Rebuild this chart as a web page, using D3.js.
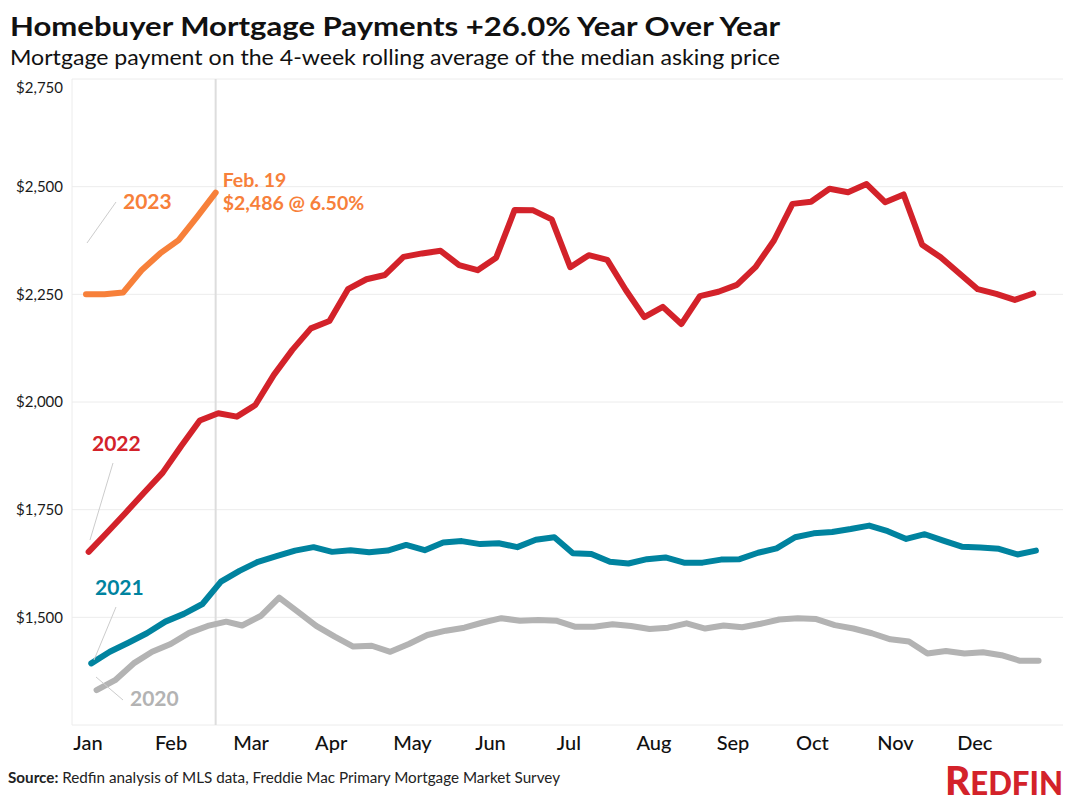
<!DOCTYPE html>
<html>
<head>
<meta charset="utf-8">
<script src="https://cdn.jsdelivr.net/npm/d3@7"></script>
<style>
  html, body { margin: 0; padding: 0; background: #fff; }
  svg { display: block; }
  text { font-family: Lato, "Noto Sans", sans-serif; }
</style>
</head>
<body>
<svg id="chart" width="1073" height="805"></svg>
<script>
// ---------------- DATA ----------------
const monthLabels = ["Jan","Feb","Mar","Apr","May","Jun","Jul","Aug","Sep","Oct","Nov","Dec"];
const yTicks = [1500, 1750, 2000, 2250, 2500, 2750];
const yTickLabels = ["$1,500","$1,750","$2,000","$2,250","$2,500","$2,750"];

// weekly series; first week-ending date of each year
const start2020 = "2020-01-05";
const start2021 = "2021-01-03";
const start2022 = "2022-01-02";
const start2023 = "2023-01-01";

const values2020 = [1331,1354,1393,1420,1438,1464,1480,1490,1481,1503,1546,1513,1480,1455,1432,1434,1420,1438,1459,1469,1476,1488,1498,1492,1494,1492,1478,1478,1484,1480,1473,1476,1486,1474,1481,1477,1485,1495,1498,1496,1482,1474,1463,1449,1444,1416,1422,1416,1419,1412,1399,1399];
const values2021 = [1393,1420,1441,1463,1490,1508,1531,1583,1608,1629,1642,1655,1663,1652,1656,1651,1655,1668,1656,1674,1677,1670,1672,1663,1680,1686,1649,1647,1629,1625,1635,1639,1627,1627,1634,1635,1650,1660,1686,1695,1698,1705,1713,1700,1682,1693,1678,1664,1662,1659,1646,1655];
const values2022 = [1652,1697,1743,1790,1836,1898,1957,1974,1966,1993,2063,2121,2171,2188,2262,2285,2295,2337,2345,2351,2318,2306,2335,2446,2445,2424,2313,2341,2330,2260,2197,2221,2181,2246,2256,2272,2313,2375,2460,2465,2495,2487,2506,2464,2482,2365,2336,2299,2262,2251,2237,2252];
const values2023 = [2250,2250,2254,2306,2345,2376,2430,2486];

const seriesNames = ["2020","2021","2022","2023"];
const seriesColors = ["#b3b3b3","#00839f","#d3222a","#f7803a"];

const title = "Homebuyer Mortgage Payments +26.0% Year Over Year";
const subtitle = "Mortgage payment on the 4-week rolling average of the median asking price";
const calloutLines = ["Feb. 19", "$2,486 @ 6.50%"];

// ---------------- BUILD ----------------
const parse = d3.timeParse("%Y-%m-%d");
function toRef(d) { return new Date(2022, d.getMonth(), d.getDate()); }
function buildSeries(startStr, vals) {
  const s = parse(startStr);
  return vals.map((v, i) => ({ date: toRef(d3.timeDay.offset(s, 7 * i)), value: v }));
}
const series = [
  buildSeries(start2020, values2020),
  buildSeries(start2021, values2021),
  buildSeries(start2022, values2022),
  buildSeries(start2023, values2023)
];

const svg = d3.select("#chart");
svg.append("rect").attr("width", 1073).attr("height", 805).attr("fill", "#fff");

const plotLeft = 72, plotRight = 1063, plotTop = 79, plotBottom = 725;

const x = d3.scaleTime()
  .domain([new Date(2022, 0, 1), new Date(2022, 11, 31)])
  .range([86, 86 + 364 * 2.646]);
const y = d3.scaleLinear().domain([1250, 2750]).range([plotBottom, plotTop]);

// gridlines
svg.append("g").selectAll("line").data(yTicks).join("line")
  .attr("x1", plotLeft).attr("x2", plotRight)
  .attr("y1", d => y(d)).attr("y2", d => y(d))
  .attr("stroke", "#ececec").attr("stroke-width", 1);
// plot frame left & bottom
svg.append("line").attr("x1", plotLeft).attr("x2", plotLeft).attr("y1", plotTop).attr("y2", plotBottom)
  .attr("stroke", "#ececec");
svg.append("line").attr("x1", plotLeft).attr("x2", plotRight).attr("y1", plotBottom).attr("y2", plotBottom)
  .attr("stroke", "#ececec");

// y axis labels
svg.append("g").selectAll("text").data(yTicks).join("text")
  .attr("x", 63)
  .attr("y", d => d === 2750 ? y(d) + 9 : y(d))
  .attr("dy", "0.35em")
  .attr("text-anchor", "end")
  .attr("font-size", 15)
  .attr("fill", "#1a1a1a")
  .text((d, i) => yTickLabels[i]);

// x axis labels (month starts)
const monthOffsets = [2, 3, 9, 7, 9, 5, 4, 7, 4, 4, 5, 5];
const months = d3.range(12).map(m => new Date(2022, m, 1));
svg.append("g").selectAll("text").data(months).join("text")
  .attr("x", (d, i) => x(d) + monthOffsets[i])
  .attr("y", 743)
  .attr("dy", "0.35em")
  .attr("text-anchor", "middle")
  .attr("font-size", 20)
  .attr("font-weight", 500)
  .attr("fill", "#111")
  .text((d, i) => monthLabels[i]);

// vertical marker at latest date
const lastDate = series[3][series[3].length - 1].date;
svg.append("line")
  .attr("x1", x(lastDate)).attr("x2", x(lastDate))
  .attr("y1", plotTop).attr("y2", plotBottom)
  .attr("stroke", "#dddddd").attr("stroke-width", 2);

// lines
const line = d3.line().x(d => x(d.date)).y(d => y(d.value));
svg.append("g").selectAll("path").data(series).join("path")
  .attr("d", line)
  .attr("fill", "none")
  .attr("stroke", (d, i) => seriesColors[i])
  .attr("stroke-width", 6)
  .attr("stroke-linejoin", "round")
  .attr("stroke-linecap", "round");

// series labels with leader lines
const labelSpecs = [
  { i: 0, tx: 130, ty: 699, lx1: 96, ly1: 677, lx2: 123, ly2: 700 },
  { i: 1, tx: 95, ty: 588, lx1: 94, ly1: 660, lx2: 116, ly2: 607 },
  { i: 2, tx: 92, ty: 444, lx1: 90, ly1: 540, lx2: 113, ly2: 463 },
  { i: 3, tx: 123, ty: 202, lx1: 87, ly1: 243, lx2: 116, ly2: 202 }
];
labelSpecs.forEach(s => {
  svg.append("line").attr("x1", s.lx1).attr("y1", s.ly1).attr("x2", s.lx2).attr("y2", s.ly2)
    .attr("stroke", "#cccccc").attr("stroke-width", 1);
  svg.append("text").attr("x", s.tx).attr("y", s.ty).attr("dy", "0.35em")
    .attr("font-size", 21).attr("font-weight", 700)
    .attr("fill", seriesColors[s.i]).text(seriesNames[s.i]);
});

// callout
const lastVal = series[3][series[3].length - 1];
svg.append("g").selectAll("text").data(calloutLines).join("text")
  .attr("x", x(lastVal.date) + 7)
  .attr("y", (d, i) => 180 + i * 23)
  .attr("dy", "0.35em")
  .attr("font-size", 19.5)
  .attr("font-weight", 700)
  .attr("fill", seriesColors[3])
  .text(d => d);

// titles
svg.append("text").attr("x", 10).attr("y", 36)
  .attr("font-size", 27).attr("font-weight", 700).attr("fill", "#111")
  .attr("textLength", 770).attr("lengthAdjust", "spacingAndGlyphs")
  .text(title);
svg.append("text").attr("x", 10).attr("y", 65)
  .attr("font-size", 21).attr("fill", "#111")
  .attr("textLength", 770).attr("lengthAdjust", "spacingAndGlyphs")
  .text(subtitle);

// source
const src = svg.append("text").attr("x", 8).attr("y", 783).attr("font-size", 15).attr("fill", "#222")
  .attr("textLength", 552).attr("lengthAdjust", "spacingAndGlyphs");
src.append("tspan").attr("font-weight", 700).text("Source:");
src.append("tspan").text(" Redfin analysis of MLS data, Freddie Mac Primary Mortgage Market Survey");

// logo
const logo = svg.append("text").attr("x", 945).attr("y", 795)
  .attr("font-weight", 900).attr("fill", "#d3222a")
  .attr("textLength", 118).attr("lengthAdjust", "spacingAndGlyphs");
logo.append("tspan").attr("font-size", 40).text("R");
logo.append("tspan").attr("font-size", 32).text("EDFIN");
</script>
</body>
</html>
